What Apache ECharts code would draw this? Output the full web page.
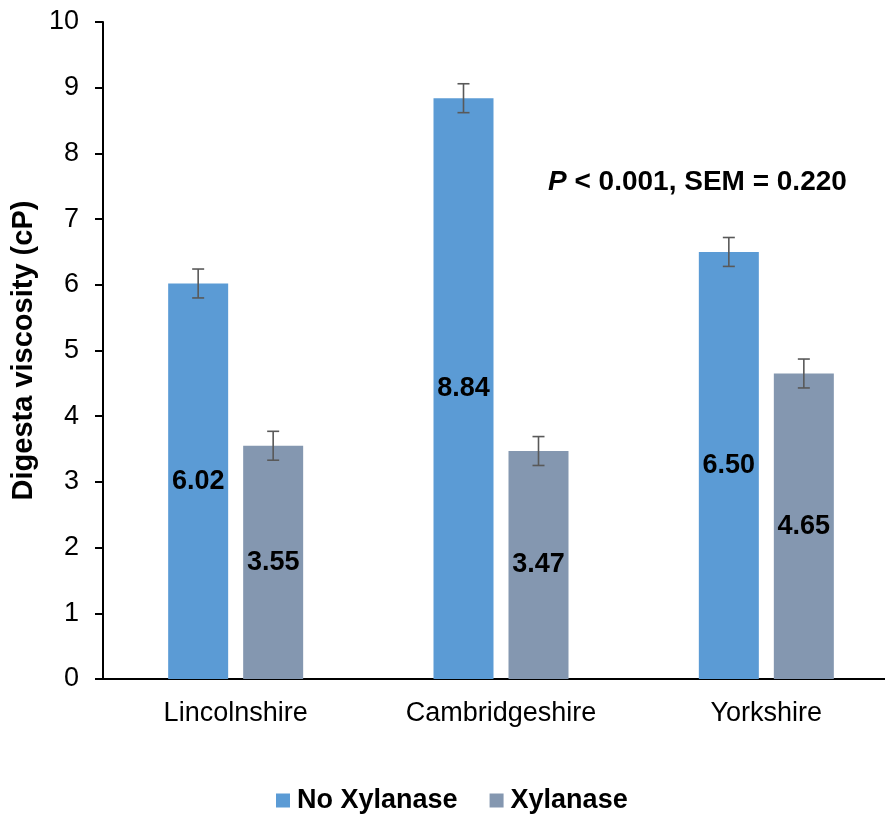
<!DOCTYPE html>
<html><head><meta charset="utf-8">
<script src="https://cdn.jsdelivr.net/npm/echarts@6/dist/echarts.min.js"></script>
<style>html,body{margin:0;padding:0;background:#fff}#c{width:885px;height:817px}</style>
</head><body><div id="c"></div>
<script>
const categories = ['Lincolnshire', 'Cambridgeshire', 'Yorkshire'];
const noXylanase = [6.02, 8.84, 6.50];
const xylanase = [3.55, 3.47, 4.65];
const noXylanaseErr = [0.22, 0.22, 0.22];
const xylanaseErr = [0.22, 0.22, 0.22];
const seriesNames = ['No Xylanase', 'Xylanase'];
const yTicks = [0, 10, 1];
const annotation = ['P', ' < 0.001, SEM = 0.220'];

const FONT = '"Liberation Sans", Arial, sans-serif';
const chart = echarts.init(document.getElementById('c'), null, {renderer: 'canvas'});

function errRender(values, errs, offset) {
  return function (params, api) {
    const i = api.value(0);
    const v = values[i], e = errs[i];
    const top = api.coord([i, v + e]);
    const bot = api.coord([i, v - e]);
    const x = top[0] + offset;
    const cap = 6;
    const style = {stroke: '#595959', lineWidth: 1.6};
    return {
      type: 'group',
      children: [
        {type: 'line', shape: {x1: x, y1: top[1], x2: x, y2: bot[1]}, style},
        {type: 'line', shape: {x1: x - cap, y1: top[1], x2: x + cap, y2: top[1]}, style},
        {type: 'line', shape: {x1: x - cap, y1: bot[1], x2: x + cap, y2: bot[1]}, style}
      ]
    };
  };
}

const labelStyle = {show: true, position: 'inside', color: '#000', fontFamily: FONT, fontWeight: 'bold', fontSize: 27,
  formatter: p => p.value.toFixed(2)};

chart.setOption({
  animation: false,
  grid: {left: 103, top: 22, bottom: 138, right: -14, containLabel: false, outerBoundsMode: 'none'},
  legend: {
    data: seriesNames,
    left: 271, top: 782,
    icon: 'rect', itemWidth: 14, itemHeight: 14, itemGap: 32,
    textStyle: {fontFamily: FONT, fontWeight: 'bold', fontSize: 27, color: '#000', padding: [0, 0, 0, 2]}
  },
  xAxis: {
    type: 'category', data: categories,
    axisLine: {lineStyle: {color: '#000', width: 2}},
    axisTick: {show: false},
    axisLabel: {color: '#000', fontFamily: FONT, fontSize: 27, margin: 21}
  },
  yAxis: {
    type: 'value', min: yTicks[0], max: yTicks[1], interval: yTicks[2],
    name: 'Digesta viscosity (cP)', nameLocation: 'middle', nameGap: 65, nameRotate: 90,
    nameTextStyle: {color: '#000', fontFamily: FONT, fontWeight: 'bold', fontSize: 29},
    axisLine: {show: true, lineStyle: {color: '#000', width: 2}},
    axisTick: {show: true, length: 8, lineStyle: {color: '#000', width: 2}},
    splitLine: {show: false},
    axisLabel: {color: '#000', fontFamily: FONT, fontSize: 27, margin: 24}
  },
  series: [
    {name: seriesNames[0], type: 'bar', data: noXylanase, barWidth: 60, barGap: '25%',
     itemStyle: {color: '#5B9BD5'}, label: labelStyle},
    {name: seriesNames[1], type: 'bar', data: xylanase, barWidth: 60,
     itemStyle: {color: '#8497B0'}, label: labelStyle},
    {type: 'custom', data: categories.map((c, i) => [i]), renderItem: errRender(noXylanase, noXylanaseErr, -37.5), z: 5, silent: true},
    {type: 'custom', data: categories.map((c, i) => [i]), renderItem: errRender(xylanase, xylanaseErr, 37.5), z: 5, silent: true}
  ],
  graphic: [{
    type: 'text', left: 548, top: 168,
    style: {
      text: '{i|' + annotation[0] + '}{b|' + annotation[1] + '}',
      rich: {
        i: {fontFamily: FONT, fontWeight: 'bold', fontStyle: 'italic', fontSize: 28, fill: '#000'},
        b: {fontFamily: FONT, fontWeight: 'bold', fontSize: 28, fill: '#000'}
      }
    }
  }]
});
</script></body></html>
